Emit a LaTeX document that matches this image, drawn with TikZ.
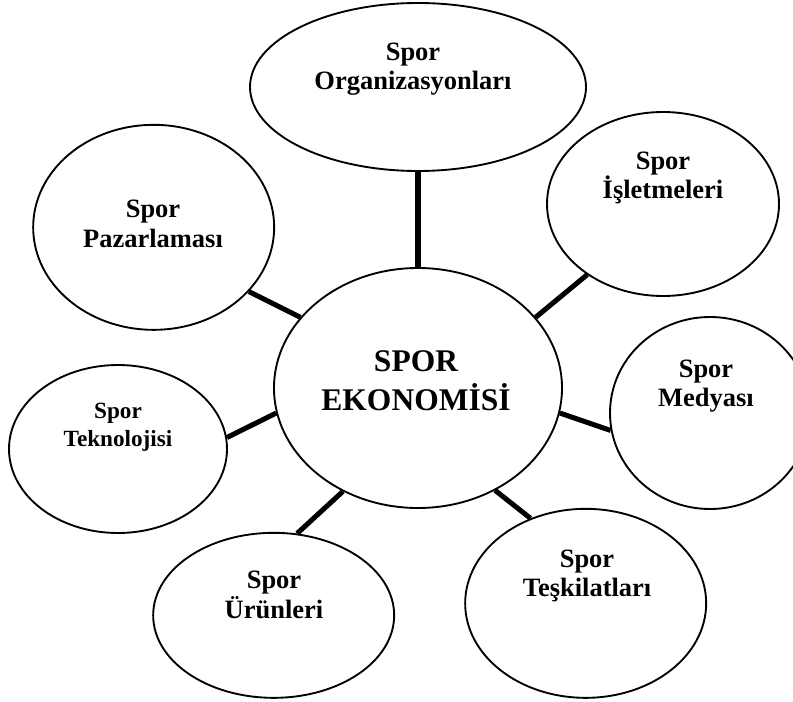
\documentclass[tikz,border=0pt]{standalone}
\usepackage{fontspec}
\setmainfont{Liberation Serif}
\usepackage{tikz}
\usetikzlibrary{shapes.geometric}
\definecolor{ink}{gray}{0.0}
\tikzset{
  bubble/.style={draw=ink, line width=1.6pt, ellipse, inner sep=0pt, fill=white},
  lbl/.style={align=center, text=ink, inner sep=0pt,
              font=\bfseries\fontsize{22.6}{25.2}\selectfont},
  link/.style={draw=ink, line width=4.3pt},
}

\begin{document}
\begin{tikzpicture}
    \clip (0,0) rectangle (23.79,21.03);
    \node[bubble, minimum width=10.08cm, minimum height=5.04cm] (org) at (12.54,18.42) {};
    \node[bubble, minimum width=6.96cm, minimum height=5.52cm]  (isl) at (19.89,14.91) {};
    \node[bubble, minimum width=7.23cm, minimum height=6.15cm]  (paz) at (4.61,14.21) {};
    \node[bubble, minimum width=8.64cm, minimum height=7.2cm]   (eco) at (12.54,9.39) {};
    \node[bubble, minimum width=6.0cm, minimum height=5.76cm]   (med) at (21.30,8.64) {};
    \node[bubble, minimum width=6.54cm, minimum height=5.04cm]  (tek) at (3.54,7.56) {};
    \node[bubble, minimum width=7.23cm, minimum height=4.95cm]  (uru) at (8.21,2.57) {};
    \node[bubble, minimum width=7.23cm, minimum height=5.67cm]  (tes) at (17.57,2.93) {};

    \node[lbl] (org-t) at (12.39,18.96) {Spor\\Organizasyonları};
    \node[lbl] (isl-t) at (19.89,15.69) {Spor\\İşletmeleri};
    \node[lbl] (paz-t) at (4.59,14.31)  {Spor\\Pazarlaması};
    \node[lbl, font=\bfseries\fontsize{26.9}{33.3}\selectfont] (eco-t) at (12.48,9.60) {SPOR\\EKONOMİSİ};
    \node[lbl] (med-t) at (21.18,9.45)  {Spor\\Medyası};
    \node[lbl, font=\bfseries\fontsize{19.8}{23.9}\selectfont] (tek-t) at (3.54,8.22) {Spor\\Teknolojisi};
    \node[lbl] (uru-t) at (8.22,3.18)   {Spor\\Ürünleri};
    \node[lbl] (tes-t) at (17.61,3.75)  {Spor\\Teşkilatları};

    \draw[link] (org.south) -- (eco.north);
    \draw[link] (eco.31)  -- (isl.223);
    \draw[link] (paz.326) -- (eco.149);
    \draw[link] (eco.350) -- (med.190);
    \draw[link] (tek.6)   -- (eco.190);
    \draw[link] (uru.74)  -- (eco.234);
    \draw[link] (tes.123) -- (eco.307);
  \end{tikzpicture}
\end{document}
